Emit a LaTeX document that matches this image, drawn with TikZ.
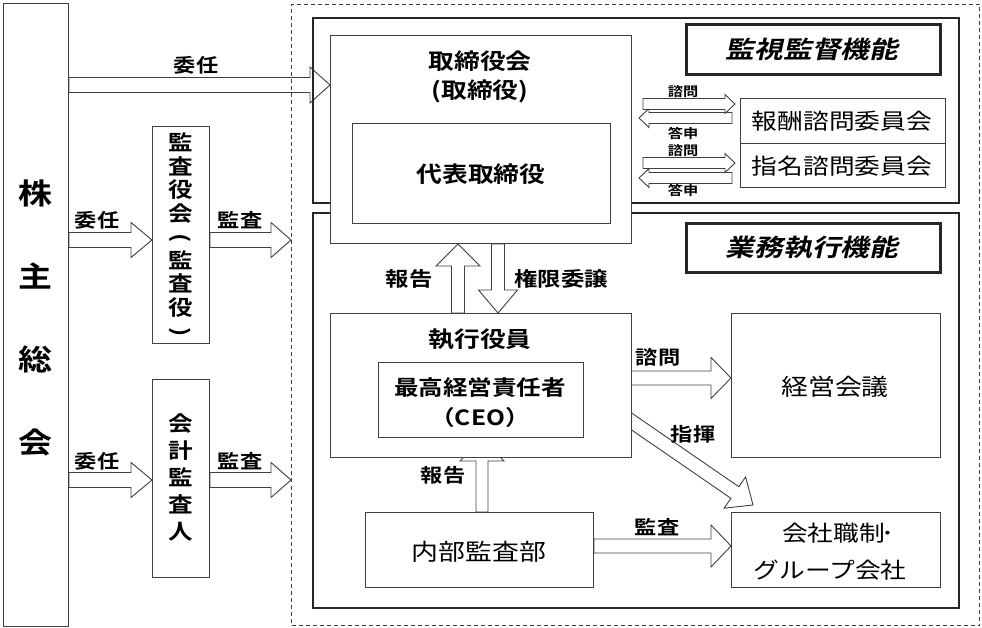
\documentclass[tikz,border=0pt]{standalone}
\usepackage{fontspec}
\usepackage{graphicx}
\setmainfont{Noto Sans CJK JP}[FakeStretch=1.17,BoldFont={Noto Sans CJK JP Bold}]
\newfontfamily\titlefont{Noto Sans CJK JP Bold}[FakeSlant=0.22,FakeStretch=1.2]
\usetikzlibrary{calc}
\pgfdeclarelayer{bg}
\pgfsetlayers{bg,main}
\definecolor{linec}{rgb}{0.25,0.25,0.25}
\tikzset{
  box/.style={draw=linec, line width=1pt, fill=white, inner sep=0pt, anchor=north west},
  frame/.style={draw=black!85, line width=2.4pt, inner sep=0pt, anchor=north west},
  lblbox/.style={draw=black!85, line width=2.6pt, fill=white, inner sep=0pt, anchor=north west},
  barrow/.style={draw=linec, line width=0.9pt, fill=white, line join=miter},
  lab/.style={font=\bfseries\fontsize{19}{19}\selectfont, inner sep=0pt},
  smalllab/.style={font=\bfseries\fontsize{13}{13}\selectfont, inner sep=0pt},
  boxtxt/.style={font=\fontsize{22}{22}\selectfont, inner sep=0pt},
  boldtxt/.style={font=\bfseries\fontsize{22}{22}\selectfont, inner sep=0pt},
}
\newcommand\vparl{\rotatebox[origin=c]{-90}{(}}
\newcommand\vparr{\rotatebox[origin=c]{-90}{)}}
% #1 start, #2 end, #3 half shaft, #4 half head, #5 head length
\newcommand\blockarrow[5]{%
  \coordinate (baA) at (#1);
  \coordinate (baB) at (#2);
  \coordinate (baH) at ($(baB)!#5!(baA)$);
  \draw[barrow] ($(baA)!#3!90:(baB)$) -- ($(baH)!#3!90:(baB)$) -- ($(baH)!#4!90:(baB)$)
    -- (baB) -- ($(baH)!#4!-90:(baB)$) -- ($(baH)!#3!-90:(baB)$) -- ($(baA)!#3!-90:(baB)$) -- cycle;
}
\begin{document}
\begin{tikzpicture}[x=1pt,y=-1pt]
\useasboundingbox (0,0) rectangle (982,628);

% frames
\node[draw=linec, line width=1pt, dash pattern=on 4pt off 3pt, inner sep=0pt, anchor=north west,
      minimum width=688, minimum height=621] (outer) at (291,4) {};
\node[frame, minimum width=646, minimum height=185] (kanshi) at (312,17) {};
\node[frame, minimum width=646, minimum height=395] (gyomu) at (312,212) {};

% left column
\node[box, minimum width=65, minimum height=623] (kabu) at (3,3) {};
\node[font=\bfseries\fontsize{29}{83}\selectfont, align=center, inner sep=0pt] (kabutxt) at (35.5,318) {株\\主\\総\\会};
\node[box, minimum width=57, minimum height=217] (kansayaku) at (152,126) {};
\node[font=\bfseries\fontsize{21}{23.5}\selectfont, align=center, inner sep=0pt] (kansayakutxt) at (180.5,236) {監\\査\\役\\会\\\vparl\\監\\査\\役\\\vparr};
\node[box, minimum width=57, minimum height=198] (kaikei) at (152,379) {};
\node[font=\bfseries\fontsize{21}{27}\selectfont, align=center, inner sep=0pt] (kaikeitxt) at (180.5,477) {会\\計\\監\\査\\人};

% supervision boxes
\node[box, minimum width=301, minimum height=208] (tori) at (330,35) {};
\node[boldtxt] (toritxt) at (480,61) {取締役会};
\node[boldtxt] (toritxt2) at (480,91) {(取締役)};
\node[box, minimum width=258, minimum height=100] (daihyo) at (352,123) {};
\node[boldtxt] (daihyotxt) at (481,174) {代表取締役};
\node[lblbox, minimum width=254, minimum height=50] (kanshilbl) at (685,23) {};
\node[inner sep=0pt, font=\titlefont\fontsize{24}{24}\selectfont] (kanshitxt) at (812,49) {監視監督機能};
\node[box, minimum width=205, minimum height=45] (hoshu) at (740,98) {};
\node[boxtxt] (hoshutxt) at (842,121) {報酬諮問委員会};
\node[box, minimum width=205, minimum height=44] (shimei) at (740,143) {};
\node[boxtxt] (shimeitxt) at (842,166) {指名諮問委員会};

% execution boxes
\node[lblbox, minimum width=254, minimum height=49] (gyomulbl) at (685,222) {};
\node[inner sep=0pt, font=\titlefont\fontsize{24}{24}\selectfont] (gyomutxt) at (812,248) {業務執行機能};
\node[box, minimum width=301, minimum height=144] (shikko) at (330,313) {};
\node[boldtxt] (shikkotxt) at (480,339) {執行役員};
\node[box, minimum width=205, minimum height=75] (ceo) at (378,362) {};
\node[font=\bfseries\fontsize{21}{21}\selectfont, inner sep=0pt] (ceotxt) at (480,388) {最高経営責任者};
\node[font=\bfseries\fontsize{21}{21}\selectfont, inner sep=0pt] (ceotxt2) at (480,418) {（CEO）};
\node[box, minimum width=209, minimum height=144] (keiei) at (731,313) {};
\node[font=\fontsize{23}{23}\selectfont, inner sep=0pt] (keieitxt) at (835,387) {経営会議};
\node[box, minimum width=228, minimum height=75] (naibu) at (365,512) {};
\node[font=\fontsize{23}{23}\selectfont, inner sep=0pt] (naibutxt) at (479,552) {内部監査部};
\node[box, minimum width=209, minimum height=75] (kaisha) at (731,512) {};
\node[font=\fontsize{22}{22}\selectfont, inner sep=0pt] (kaishatxt) at (838,533) {会社職制\kern-4pt･};
\node[font=\fontsize{22}{22}\selectfont, inner sep=0pt] (kaishatxt2) at (830,570) {グループ会社};

% labels
\node[lab] (l1) at (196,65) {委任};
\node[lab] (l2) at (97,220) {委任};
\node[lab] (l3) at (240,220) {監査};
\node[lab] (l4) at (97,461) {委任};
\node[lab] (l5) at (240,461) {監査};
\node[smalllab] (s1) at (683,92) {諮問};
\node[smalllab] (s2) at (683,133) {答申};
\node[smalllab] (s3) at (683,151) {諮問};
\node[smalllab] (s4) at (683,190) {答申};
\node[font=\bfseries\fontsize{20}{20}\selectfont, inner sep=0pt] (l6) at (409,279) {報告};
\node[font=\bfseries\fontsize{20}{20}\selectfont, inner sep=0pt] (l7) at (561,279) {権限委譲};
\node[lab] (l8) at (658,357) {諮問};
\node[lab] (l9) at (693,434) {指揮};
\node[lab] (l10) at (443,475) {報告};
\node[lab] (l11) at (657,527) {監査};

% arrows
\begin{pgfonlayer}{bg}
\blockarrow{kabu.east |- 0,85}{tori.west |- 0,85}{7.5pt}{18pt}{20pt}
\blockarrow{kabu.east |- 0,240}{kansayaku.west |- 0,240}{7.5pt}{17.5pt}{21pt}
\blockarrow{kansayaku.east |- 0,240}{outer.west |- 0,240}{7.5pt}{17.5pt}{20pt}
\blockarrow{kabu.east |- 0,480}{kaikei.west |- 0,480}{7.5pt}{17.5pt}{21pt}
\blockarrow{kaikei.east |- 0,480}{outer.west |- 0,480}{7.5pt}{17.5pt}{20pt}
\blockarrow{shikko.north -| 458,0}{tori.south -| 458,0}{6.5pt}{22pt}{22pt}
\blockarrow{tori.south -| 498,0}{shikko.north -| 498,0}{6.5pt}{19.5pt}{23pt}
\blockarrow{ceo.east |- 0,378}{keiei.west |- 0,378}{7pt}{20.5pt}{20pt}
\blockarrow{$(shikko.east)+(-12,28)$}{$(kaisha.north west)+(22,-7)$}{7pt}{19pt}{22pt}
\blockarrow{naibu.north -| 482,0}{ceo.south -| 482,0}{6pt}{22pt}{23pt}
\blockarrow{naibu.east |- 0,546}{kaisha.west |- 0,546}{7pt}{21pt}{20pt}
\blockarrow{$(hoshu.west |- 0,118)+(-8,0)$}{$(tori.east |- 0,118)+(7,0)$}{5.5pt}{9.5pt}{10pt}
\blockarrow{$(tori.east |- 0,104)+(11,0)$}{$(hoshu.west |- 0,104)+(-5,0)$}{5.5pt}{9.5pt}{10pt}
\blockarrow{$(shimei.west |- 0,178)+(-8,0)$}{$(tori.east |- 0,178)+(7,0)$}{5.5pt}{9.5pt}{10pt}
\blockarrow{$(tori.east |- 0,163)+(11,0)$}{$(shimei.west |- 0,163)+(-5,0)$}{5.5pt}{9.5pt}{10pt}
\end{pgfonlayer}
\end{tikzpicture}
\end{document}
